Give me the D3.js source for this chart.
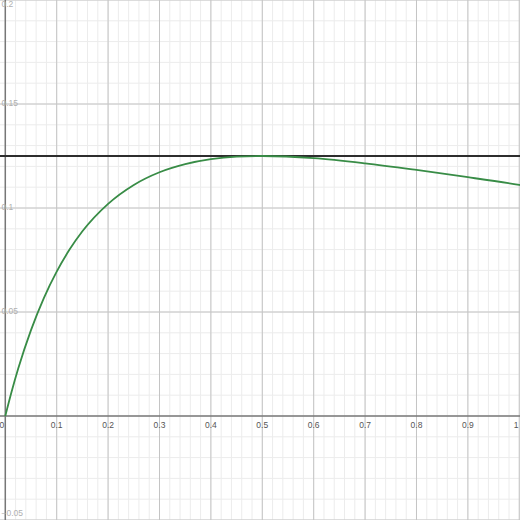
<!DOCTYPE html>
<html>
<head>
<meta charset="utf-8">
<script src="https://cdn.jsdelivr.net/npm/d3@7"></script>
<style>
  body { margin: 0; background: #fff; }
  svg { display: block; font-family: "Liberation Sans", Arial, sans-serif; }
</style>
</head>
<body>
<div id="chart"></div>
<script>
// tick labels
const xTicks = [0, 0.1, 0.2, 0.3, 0.4, 0.5, 0.6, 0.7, 0.8, 0.9, 1];
const yTicks = [-0.05, 0.05, 0.1, 0.15, 0.2];

// curve samples
const curveX = [0, 0.0125, 0.025, 0.05, 0.075, 0.1, 0.125, 0.15, 0.2, 0.25, 0.3,
  0.35, 0.4, 0.45, 0.5, 0.6, 0.7, 0.8, 0.9, 1.0, 1.01];
const curveY = [0, 0.0119, 0.0227, 0.0413, 0.0567, 0.0694, 0.08, 0.0888, 0.102, 0.1111, 0.1172,
  0.1211, 0.1235, 0.1247, 0.125, 0.124, 0.1215, 0.1183, 0.1148, 0.1111, 0.1107];

// horizontal line
const levelY = 0.125;

const width = 520, height = 520;

const svg = d3.select("#chart").append("svg")
  .attr("width", width)
  .attr("height", height);

const x = d3.scaleLinear().domain([-0.0103, 1.0014]).range([0, width]);
const y = d3.scaleLinear().domain([-0.05, 0.2]).range([height, 0]);

// minor grid
const minorX = d3.range(0, 51).map(i => i * 0.02).filter(v => x(v) <= width);
const minorY = d3.range(-5, 21).map(i => i * 0.01);

svg.append("g").selectAll("line").data(minorX).enter().append("line")
  .attr("x1", d => x(d)).attr("x2", d => x(d))
  .attr("y1", 0).attr("y2", height)
  .attr("stroke", "#ececec").attr("stroke-width", 1);

svg.append("g").selectAll("line").data(minorY).enter().append("line")
  .attr("y1", d => y(d)).attr("y2", d => y(d))
  .attr("x1", 0).attr("x2", width)
  .attr("stroke", "#ececec").attr("stroke-width", 1);

// major grid
svg.append("g").selectAll("line").data(xTicks.filter(d => d !== 0)).enter().append("line")
  .attr("x1", d => x(d)).attr("x2", d => x(d))
  .attr("y1", 0).attr("y2", height)
  .attr("stroke", "#c4c4c4").attr("stroke-width", 1);

svg.append("g").selectAll("line").data(yTicks).enter().append("line")
  .attr("y1", d => y(d)).attr("y2", d => y(d))
  .attr("x1", 0).attr("x2", width)
  .attr("stroke", "#c4c4c4").attr("stroke-width", 1);

// axes
svg.append("line")
  .attr("x1", 0).attr("x2", width)
  .attr("y1", y(0)).attr("y2", y(0))
  .attr("stroke", "#777").attr("stroke-width", 1.5);
svg.append("line")
  .attr("x1", x(0)).attr("x2", x(0))
  .attr("y1", 0).attr("y2", height)
  .attr("stroke", "#777").attr("stroke-width", 1.5);

// x tick labels
svg.append("g").selectAll("text").data(xTicks).enter().append("text")
  .attr("x", d => d === 0 ? x(0) - 1 : Math.min(x(d), width - 4))
  .attr("y", y(0) + 10)
  .attr("text-anchor", d => d === 0 ? "end" : "middle")
  .attr("dominant-baseline", "middle")
  .style("font-size", "8.5px")
  .style("fill", "#555")
  .text(d => d3.format("~g")(d));

// y tick labels
svg.append("g").selectAll("text").data(yTicks).enter().append("text")
  .attr("x", 1.5)
  .attr("y", d => Math.max(5, Math.min(height - 6, y(d))))
  .attr("text-anchor", "start")
  .attr("dominant-baseline", "middle")
  .style("font-size", "8.5px")
  .style("fill", "#b0b0b0")
  .text(d => d3.format("~g")(d));

// horizontal line y = 0.125
svg.append("line")
  .attr("x1", 0).attr("x2", width)
  .attr("y1", y(levelY)).attr("y2", y(levelY))
  .attr("stroke", "#2d2d2d").attr("stroke-width", 2);

// green curve
const pts = curveX.map((v, i) => [v, curveY[i]]);
const line = d3.line()
  .x(d => x(d[0]))
  .y(d => y(d[1]))
  .curve(d3.curveMonotoneX);

svg.append("path")
  .datum(pts)
  .attr("d", line)
  .attr("fill", "none")
  .attr("stroke", "#388c46")
  .attr("stroke-width", 1.8);
</script>
</body>
</html>
